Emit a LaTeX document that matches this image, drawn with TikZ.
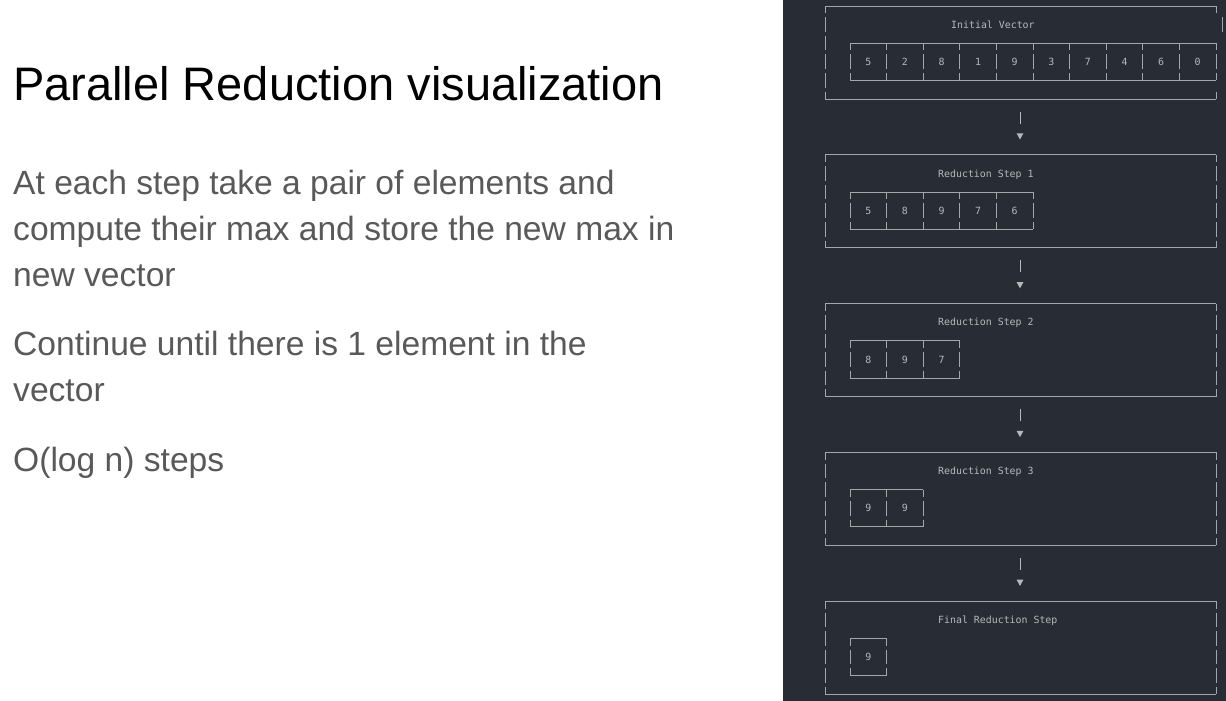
\documentclass[tikz,border=0pt]{standalone}
\usepackage{fontspec}
\setmainfont{Liberation Sans}
\newfontfamily\panelmono{DejaVu Sans Mono}
\definecolor{panelbg}{HTML}{282C34}
\definecolor{rulegray}{HTML}{A2A6AD}
\definecolor{monotext}{HTML}{B4B8BF}
\definecolor{bodygray}{HTML}{595959}
\begin{document}
\begin{tikzpicture}[x=1pt,y=-1pt,
  rule/.style={draw=rulegray,line width=0.9pt},
  rowbars/.style={rule,dash pattern=on 14.6pt off 4pt,dash phase=7.3pt},
  monolabel/.style={font=\panelmono\fontsize{9.9}{12}\selectfont,text=monotext,inner sep=0pt},
  headline/.style={font=\fontsize{47}{52}\selectfont,text=black,inner sep=0pt,anchor=base west},
  bodyline/.style={font=\fontsize{33.6}{40}\selectfont,text=bodygray,inner sep=0pt,anchor=base west}]
\useasboundingbox (0,0) rectangle (1226,701);
\fill[white] (0,0) rectangle (1226,701);
\fill[panelbg] (783,0) rectangle (1226,701);

% left column: heading and explanation
\node[headline] (heading) at (13,100) {Parallel Reduction visualization};
\node[bodyline] (l1) at (13,194) {At each step take a pair of elements and};
\node[bodyline] (l2) at (13,240) {compute their max and store the new max in};
\node[bodyline] (l3) at (13,286) {new vector};
\node[bodyline] (l4) at (13,355) {Continue until there is 1 element in the};
\node[bodyline] (l5) at (13,401) {vector};
\node[bodyline] (l6) at (13,471) {O(log n) steps};

% right column: text-art boxes, one per step
\def\rh{18.6}
\def\cw{36.6}
\foreach \k/\ttl/\tx/\n/\vals in {%
  0/Initial Vector/951/10/{5,2,8,1,9,3,7,4,6,0},%
  1/Reduction Step 1/938/5/{5,8,9,7,6},%
  2/Reduction Step 2/938/3/{8,9,7},%
  3/Reduction Step 3/938/2/{9,9},%
  4/Final Reduction Step/938/1/{9}}{%
  \pgfmathsetmacro{\T}{6+8*\rh*\k}
  \pgfmathsetmacro{\B}{\T+5*\rh}
  \pgfmathsetmacro{\CT}{\T+2*\rh}
  \pgfmathsetmacro{\CB}{\T+4*\rh}
  \pgfmathsetmacro{\CR}{850+\cw*\n}
  % outer frame
  \draw[rule] (825,\T) -- (1216,\T);
  \draw[rule] (825,\B) -- (1216,\B);
  \draw[rowbars] (825,\T) -- (825,\B);
  \ifnum\k=0
    \draw[rule] (1216,\T) -- (1216,{\T+\rh/2-2});
    \draw[rule] (1222,{\T+\rh/2+2}) -- (1222,{\T+1.5*\rh-2});
    \draw[rule] (1216,{\B-\rh/2+2}) -- (1216,\B);
  \else
    \draw[rowbars] (1216,\T) -- (1216,\B);
  \fi
  % step title
  \node[monolabel,anchor=base west] (title\k) at (\tx,{\T+\rh+3.6}) {\ttl};
  % vector cells
  \draw[rule] (850,\CT) -- (\CR,\CT);
  \draw[rule] (850,\CB) -- (\CR,\CB);
  \foreach \j in {0,...,\n}{
    \draw[rowbars] ({850+\cw*\j},\CT) -- ({850+\cw*\j},\CB);
  }
  \foreach \v [count=\i from 0] in \vals {
    \node[monolabel] (cell\k-\i) at ({850+\cw*(\i+0.5)},{\T+3*\rh}) {\v};
  }
}

% down arrows between consecutive steps
\foreach \k in {0,1,2,3}{
  \pgfmathsetmacro{\T}{6+8*\rh*\k}
  \coordinate (up\k) at (1020,{\T+6*\rh-6});
  \coordinate (dn\k) at (1020,{\T+6*\rh+6});
  \coordinate (tip\k) at (1020,{\T+7*\rh+3.3});
  \draw[draw=monotext,line width=0.8pt] (up\k) -- (dn\k);
  \fill[monotext] (tip\k) -- ++(-3.4,-6.2) -- ++(6.8,0) -- cycle;
}
\end{tikzpicture}
\end{document}
